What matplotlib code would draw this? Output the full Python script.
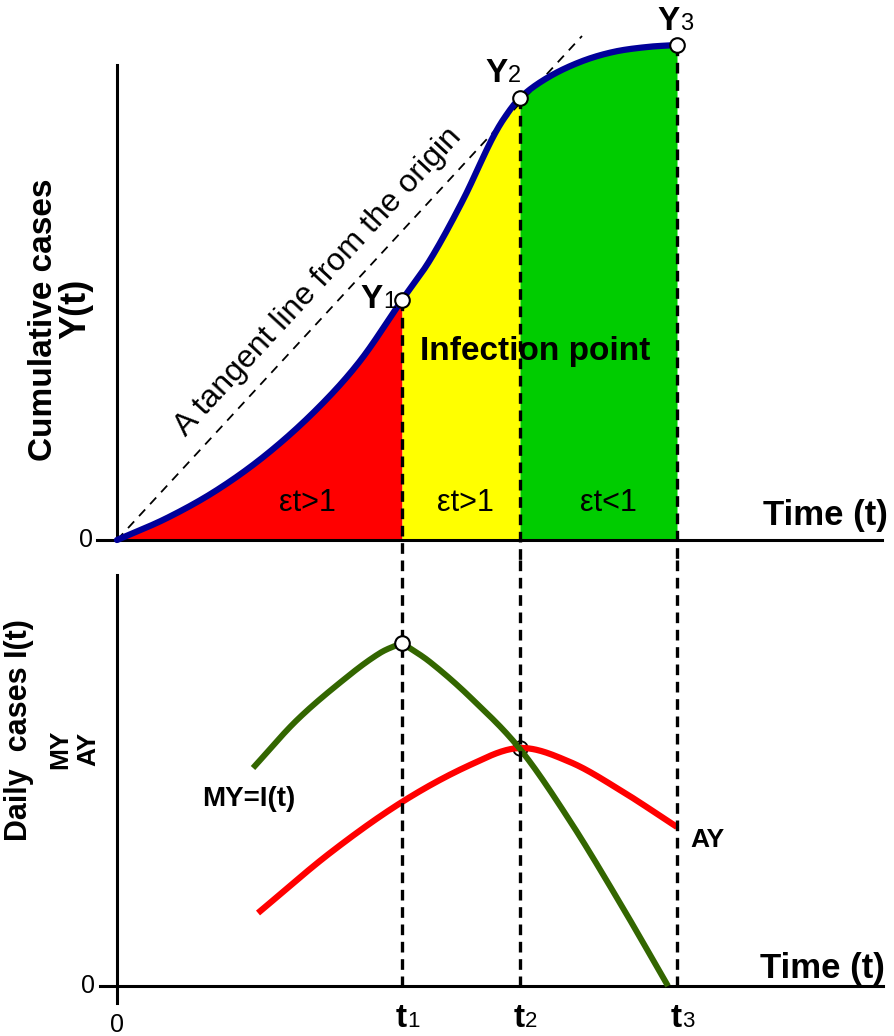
import numpy as np
import matplotlib
matplotlib.use('Agg')
import matplotlib.pyplot as plt

plt.rcParams['font.family'] = ['Liberation Sans', 'DejaVu Sans']

# ---------------- data ----------------
# cumulative cases Y(t)
t_cum = [0, 5, 10, 15, 20, 24.3, 28.5, 31.3, 34.6, 37.3, 38.6, 40.3, 43.0, 46.3, 49.6, 53.0, 56.0]
y_cum = [0, 2.2, 5.0, 8.6, 13.1, 17.9, 24.0, 28.0, 34.0, 39.7, 42.0, 44.2, 46.2, 47.8, 48.8, 49.3, 49.5]

# tangent line from the origin
tan_t = [0, 46.5]
tan_y = [0, 50.4]

# phase boundaries
t_marks = [28.5, 40.3, 56.0]
t_labels = ['1', '2', '3']
phase_colors = ['#FF0000', '#FFFF00', '#00CC00']
phase_texts = ['\u03b5t>1', '\u03b5t>1', '\u03b5t<1']

# daily cases: MY = I(t) and AY
t_my = [13.6, 18.0, 23.0, 26.3, 28.5, 31.3, 35.3, 40.3, 45.3, 50.3, 55.1]
my = [21.8, 26.6, 30.9, 33.3, 34.3, 32.4, 28.9, 23.7, 16.5, 8.3, 0.0]
t_ay = [14.1, 21.3, 28.5, 35.3, 40.3, 45.3, 50.3, 56.0]
ay = [7.3, 13.3, 18.4, 22.1, 23.8, 22.4, 19.6, 15.9]


def smooth(xs, ys, n=40):
    """Cubic Hermite rendering through the read points."""
    xs = np.asarray(xs, float)
    ys = np.asarray(ys, float)
    m = np.empty_like(ys)
    m[1:-1] = (ys[2:] - ys[:-2]) / (xs[2:] - xs[:-2])
    m[0] = (ys[1] - ys[0]) / (xs[1] - xs[0])
    m[-1] = (ys[-1] - ys[-2]) / (xs[-1] - xs[-2])
    X, Y = [], []
    s = np.linspace(0, 1, n, endpoint=False)
    h00 = 2 * s**3 - 3 * s**2 + 1
    h10 = s**3 - 2 * s**2 + s
    h01 = -2 * s**3 + 3 * s**2
    h11 = s**3 - s**2
    for i in range(len(xs) - 1):
        h = xs[i + 1] - xs[i]
        X.append(xs[i] + s * h)
        Y.append(h00 * ys[i] + h10 * h * m[i] + h01 * ys[i + 1] + h11 * h * m[i + 1])
    X.append([xs[-1]])
    Y.append([ys[-1]])
    return np.concatenate(X), np.concatenate(Y)


W, H = 894, 1036
fig = plt.figure(figsize=(W / 100, H / 100), dpi=100)
ax1 = fig.add_axes([0, 1 - 560 / H, 1, 560 / H])
ax2 = fig.add_axes([0, 0, 1, 476 / H])
for ax in (ax1, ax2):
    ax.set_xlim(-11.7, 77.7)
    ax.patch.set_visible(False)
    ax.set_xticks([])
    ax.set_yticks([])
    ax.spines['top'].set_visible(False)
    ax.spines['right'].set_visible(False)
    ax.spines['left'].set_position(('data', 0))
    ax.spines['bottom'].set_position(('data', 0))
    for sp in ('left', 'bottom'):
        ax.spines[sp].set_linewidth(2.2)
        ax.spines[sp].set_color('black')
ax1.set_ylim(-2, 54)
ax2.set_ylim(-5, 42.6)
ax1.spines['left'].set_bounds(0, 47.5)
ax1.spines['bottom'].set_bounds(-2.0, 76.5)
ax2.spines['left'].set_bounds(-1.7, 41.1)
ax2.spines['bottom'].set_bounds(-1.7, 76.6)

vdash = dict(color='black', lw=2.4, ls=(0, (3.2, 2.0)))

# ---------------- top panel ----------------
X, Y = smooth(t_cum, y_cum)
starts = [0] + t_marks[:-1]
for a, b, c in zip(starts, t_marks, phase_colors):
    msk = (X >= a - 1e-9) & (X <= b + 1e-9)
    ax1.fill_between(X[msk], 0, Y[msk], color=c, lw=0, zorder=1)
ax1.plot(tan_t, tan_y, color='black', lw=1.3, ls=(0, (5, 4)), zorder=2)
ax1.plot(X, Y, color='#000099', lw=4.5, solid_capstyle='round', zorder=3)

y_marks = [float(np.interp(t, t_cum, y_cum)) for t in t_marks]
for t, yv in zip(t_marks, y_marks):
    ax1.plot([t, t], [yv, -2], zorder=2.5, **vdash)
ax1.plot(t_marks, y_marks, 'o', ms=10.5, mfc='white', mec='black', mew=1.5,
         zorder=5, clip_on=False)


def sub_text(ax, x, y, main, sub, s_main, s_sub):
    ax.text(x, y, main, ha='right', va='baseline', fontsize=s_main,
            fontweight='bold', zorder=6)
    ax.text(x, y, sub, ha='left', va='baseline', fontsize=s_sub, zorder=6)


y_off = [(-1.9, -0.8), (-1.2, 1.6), (0.3, 1.5)]
for t, yv, lab, (dx, dy) in zip(t_marks, y_marks, t_labels, y_off):
    sub_text(ax1, t + dx, yv + dy, 'Y', lab, 24, 17)

for txt, xc in zip(phase_texts, [19.0, 34.8, 49.1]):
    ax1.text(xc, 3.7, txt, ha='center', va='center', fontsize=22, zorder=6)

ax1.text(30.3, 18.0, 'Infection point', ha='left', va='baseline',
         fontsize=24, fontweight='bold', zorder=6)
ax1.text(20.1, 25.8, 'A tangent line from the origin', ha='center', va='center',
         rotation=47.3, rotation_mode='anchor', fontsize=23, zorder=6)
ax1.text(77.1, 1.5, 'Time (t)', ha='right', va='baseline', fontsize=25,
         fontweight='bold')
ax1.text(-2.4, 0, '0', ha='right', va='center', fontsize=18)
ax1.text(-6.5, 22.0, 'Cumulative cases', rotation=90, rotation_mode='anchor',
         ha='center', va='baseline', fontsize=24, fontweight='bold')
ax1.text(-3.2, 23.1, 'Y(t)', rotation=90, rotation_mode='anchor',
         ha='center', va='baseline', fontsize=26, fontweight='bold')

# ---------------- bottom panel ----------------
Xa, Ya = smooth(t_ay, ay)
ipk = int(np.argmax(my))
Xl, Yl = smooth(t_my[:ipk + 1], my[:ipk + 1])
Xr, Yr = smooth(t_my[ipk:], my[ipk:])
cross_y = float(np.interp(t_marks[1], t_ay, ay))
ax2.plot([t_marks[1]], [cross_y], 'o', ms=10.5, mfc='white', mec='black',
         mew=1.3, zorder=2)
ax2.plot(Xa, Ya, color='#FF0000', lw=4.5, solid_capstyle='butt', zorder=3)
ax2.plot(np.concatenate([Xl, Xr[1:]]), np.concatenate([Yl, Yr[1:]]),
         color='#336600', lw=4.3, solid_capstyle='butt', zorder=3)
for t in t_marks:
    ax2.plot([t, t], [42.6, 0], zorder=4, **vdash)
ax2.plot([t_my[ipk]], [my[ipk]], 'o', ms=10.5, mfc='white', mec='black',
         mew=1.5, zorder=5)

for t, lab in zip(t_marks, t_labels):
    ax2.text(t + 0.5, -4.1, 't', ha='right', va='baseline', fontsize=24,
             fontweight='bold')
    ax2.text(t + 0.5, -4.1, lab, ha='left', va='baseline', fontsize=16)

ax2.text(13.2, 18.0, 'MY=I(t)', ha='center', va='baseline', fontsize=20,
         fontweight='bold')
ax2.text(57.3, 13.9, 'AY', ha='left', va='baseline', fontsize=19,
         fontweight='bold')
ax2.text(76.8, 0.8, 'Time (t)', ha='right', va='baseline', fontsize=25,
         fontweight='bold')
ax2.text(-2.2, 0, '0', ha='right', va='center', fontsize=18)
ax2.text(0, -2.7, '0', ha='center', va='top', fontsize=18)
ax2.text(-9.0, 25.6, 'Daily  cases I(t)', rotation=90, rotation_mode='anchor',
         ha='center', va='baseline', fontsize=22, fontweight='bold')
ax2.text(-5.0, 23.7, 'MY', rotation=90, rotation_mode='anchor',
         ha='center', va='baseline', fontsize=19, fontweight='bold')
ax2.text(-2.2, 23.7, 'AY', rotation=90, rotation_mode='anchor',
         ha='center', va='baseline', fontsize=19, fontweight='bold')

fig.savefig('out.png', dpi=100, facecolor='white')
